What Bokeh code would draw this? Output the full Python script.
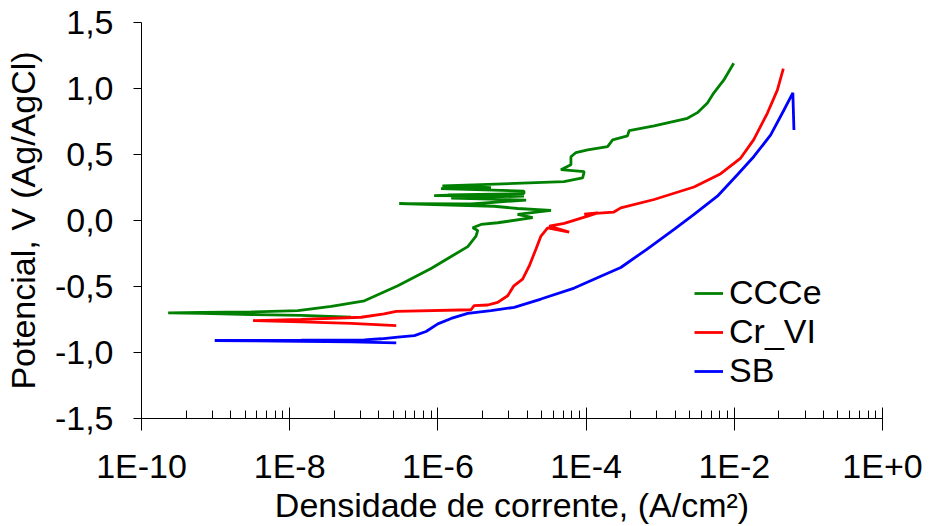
from bokeh.plotting import figure
from bokeh.models import FixedTicker, Legend, LegendItem
from bokeh.embed import file_html
from bokeh.resources import INLINE

# ---------------- data ----------------
SERIES_NAMES = ["CCCe", "Cr_VI", "SB"]

# current density (A/cm2) and potential (V vs Ag/AgCl)
CCCE_I = [6.76e-8, 1.43e-8, 3.03e-9, 6.44e-10, 2.29e-10, 6.44e-10, 3.03e-9, 1.29e-8, 3.64e-8, 1.02e-7,
          2.88e-7, 8.09e-7, 1.51e-6, 2.53e-6, 3.27e-6, 3.45e-6, 2.95e-6, 3.82e-6, 6.41e-6, 1.90e-5,
          1.19e-5, 3.36e-5, 1.19e-5, 5.71e-6, 3.00e-7, 2.80e-6, 1.55e-5, 1.51e-6, 1.45e-5, 8.89e-7,
          1.37e-6, 1.45e-5, 1.45e-5, 1.10e-6, 5.21e-6, 1.15e-6, 3.82e-6, 5.02e-5, 8.98e-5, 9.42e-5,
          4.57e-5, 6.24e-5, 6.24e-5, 7.30e-5, 1.05e-4, 1.95e-4, 2.28e-4, 3.62e-4, 3.81e-4, 8.28e-4,
          2.33e-3, 3.18e-3, 4.34e-3, 5.27e-3, 7.19e-3, 9.82e-3]
CCCE_E = [-0.733, -0.719, -0.712, -0.704, -0.700, -0.697, -0.693, -0.683, -0.650, -0.608,
          -0.495, -0.364, -0.273, -0.198, -0.118, -0.075, -0.055, -0.030, -0.017, 0.021,
          0.046, 0.076, 0.091, 0.108, 0.128, 0.125, 0.155, 0.170, 0.185, 0.189,
          0.193, 0.204, 0.223, 0.242, 0.249, 0.262, 0.272, 0.294, 0.322, 0.370,
          0.385, 0.422, 0.483, 0.515, 0.535, 0.560, 0.611, 0.641, 0.681, 0.716,
          0.774, 0.817, 0.890, 0.965, 1.063, 1.191]

CRVI_I = [2.74e-7, 6.76e-8, 1.43e-8, 3.20e-9, 1.43e-8, 9.23e-8, 1.88e-7, 2.74e-7, 2.80e-6, 3.08e-6,
          4.71e-6, 6.41e-6, 8.75e-6, 1.06e-5, 1.39e-5, 1.71e-5, 2.10e-5, 2.46e-5, 3.03e-5, 5.91e-5,
          3.18e-5, 5.07e-5, 1.05e-4, 1.43e-4, 9.42e-5, 2.37e-4, 2.94e-4, 8.28e-4, 2.86e-3, 6.56e-3,
          1.22e-2, 1.82e-2, 2.79e-2, 3.81e-2, 4.59e-2]
CRVI_E = [-0.796, -0.780, -0.768, -0.758, -0.749, -0.733, -0.708, -0.688, -0.676, -0.645,
          -0.640, -0.620, -0.570, -0.495, -0.444, -0.344, -0.218, -0.118, -0.055, -0.088,
          -0.043, -0.022, 0.033, 0.058, 0.049, 0.064, 0.096, 0.159, 0.254, 0.355,
          0.473, 0.611, 0.812, 0.988, 1.151]

SB_I = [2.74e-7, 6.76e-8, 1.43e-8, 3.03e-9, 9.73e-10, 3.03e-9, 1.43e-8, 1.02e-7, 1.72e-7, 2.88e-7,
        4.82e-7, 6.93e-7, 9.98e-7, 1.51e-6, 2.53e-6, 5.21e-6, 1.07e-5, 2.46e-5, 6.92e-5, 1.58e-4,
        2.94e-4, 6.59e-4, 1.54e-3, 2.86e-3, 5.91e-3, 1.10e-2, 1.84e-2, 3.10e-2, 4.68e-2, 6.17e-2,
        6.38e-2]
SB_E = [-0.927, -0.919, -0.915, -0.911, -0.909, -0.908, -0.907, -0.904, -0.896, -0.884,
        -0.872, -0.841, -0.783, -0.742, -0.703, -0.683, -0.658, -0.595, -0.512, -0.422,
        -0.356, -0.218, -0.067, 0.046, 0.184, 0.347, 0.485, 0.648, 0.837, 0.967,
        0.686]

X_TICKS = [1e-10, 1e-8, 1e-6, 1e-4, 1e-2, 1.0]
X_LABELS = ["1E-10", "1E-8", "1E-6", "1E-4", "1E-2", "1E+0"]
Y_TICKS = [-1.5, -1.0, -0.5, 0.0, 0.5, 1.0, 1.5]
Y_LABELS = ["-1,5", "-1,0", "-0,5", "0,0", "0,5", "1,0", "1,5"]

X_TITLE = "Densidade de corrente, (A/cm\u00b2)"
Y_TITLE = "Potencial, V (Ag/AgCl)"

FONT = "Liberation Sans"
FS = "34px"

# ---------------- figure ----------------
p = figure(width=929, height=526, x_axis_type="log",
           x_range=(1e-10, 1.0), y_range=(-1.5, 1.5),
           output_backend="svg", toolbar_location=None,
           min_border_left=140, min_border_right=47,
           min_border_top=22, min_border_bottom=106)
p.outline_line_color = None
p.xgrid.visible = False
p.ygrid.visible = False
p.background_fill_color = "white"
p.border_fill_color = "white"

minor = [k * k * 10.0 ** (-10 + 2 * n) for n in range(5) for k in range(2, 10)]

xa = p.xaxis[0]
xa.ticker = FixedTicker(ticks=X_TICKS, minor_ticks=minor)
xa.major_label_overrides = {t: s for t, s in zip(X_TICKS, X_LABELS)}
xa.major_tick_in = 11
xa.major_tick_out = 12
xa.minor_tick_in = 8
xa.minor_tick_out = 0
xa.major_label_standoff = 16
xa.major_label_text_font = FONT
xa.major_label_text_font_size = FS
xa.major_label_text_color = "black"
xa.axis_line_color = "black"
xa.major_tick_line_color = "black"
xa.minor_tick_line_color = "black"
xa.axis_label = X_TITLE
xa.axis_label_text_font = FONT
xa.axis_label_text_font_size = FS
xa.axis_label_text_font_style = "normal"
xa.axis_label_text_color = "black"
xa.axis_label_standoff = -2

ya = p.yaxis[0]
ya.ticker = FixedTicker(ticks=Y_TICKS, minor_ticks=[])
ya.major_label_overrides = {t: s for t, s in zip(Y_TICKS, Y_LABELS)}
ya.major_tick_in = 0
ya.major_tick_out = 8
ya.minor_tick_in = 0
ya.minor_tick_out = 0
ya.major_label_standoff = 20
ya.major_label_text_font = FONT
ya.major_label_text_font_size = FS
ya.major_label_text_color = "black"
ya.axis_line_color = "black"
ya.major_tick_line_color = "black"
ya.axis_label = Y_TITLE
ya.axis_label_text_font = FONT
ya.axis_label_text_font_size = FS
ya.axis_label_text_font_style = "normal"
ya.axis_label_text_color = "black"
ya.axis_label_standoff = 10

rg = p.line(CCCE_I, CCCE_E, line_color="#008000", line_width=2.8)
rr = p.line(CRVI_I, CRVI_E, line_color="#FF0000", line_width=2.8)
rb = p.line(SB_I, SB_E, line_color="#0000FF", line_width=2.8)

legend = Legend(items=[LegendItem(label=SERIES_NAMES[0], renderers=[rg]),
                       LegendItem(label=SERIES_NAMES[1], renderers=[rr]),
                       LegendItem(label=SERIES_NAMES[2], renderers=[rb])],
                location=(553, 28), border_line_color=None, background_fill_alpha=0,
                label_text_font=FONT, label_text_font_size=FS, label_text_color="black",
                glyph_width=29, glyph_height=20, label_standoff=6,
                spacing=0, padding=5, margin=0)
p.add_layout(legend)

open("out.html", "w").write(file_html(p, INLINE))
